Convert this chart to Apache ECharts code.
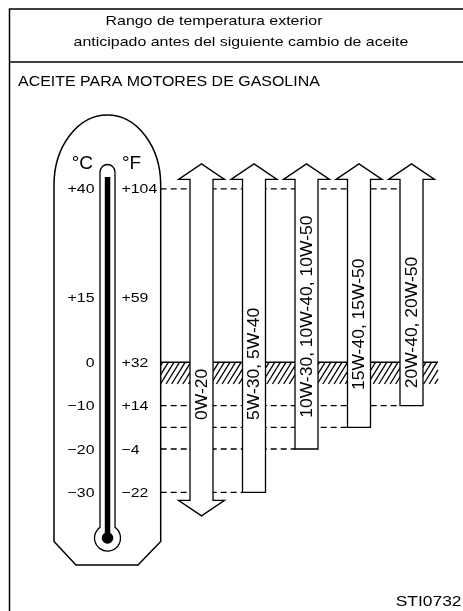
<!DOCTYPE html>
<html>
<head>
<meta charset="utf-8">
<script src="https://cdn.jsdelivr.net/npm/echarts@6/dist/echarts.min.js"></script>
<style>
  html, body { margin: 0; padding: 0; background: #fff; }
  #chart { width: 463px; height: 611px; }
</style>
</head>
<body>
<div id="chart"></div>
<script>
// Oil grades and the outdoor temperature range (°C) each one covers
const CATEGORIES = ['0W-20', '5W-30, 5W-40', '10W-30, 10W-40, 10W-50', '15W-40, 15W-50', '20W-40, 20W-50'];
const LOW_C = [-30, -30, -20, -15, -10];
const HIGH_C = [40, 40, 40, 40, 40];
const OPEN_LOW = [true, false, false, false, false];   // range continues below the low end
const OPEN_HIGH = [true, true, true, true, true];      // range continues above the high end

// Thermometer scale
const C_TICKS = [40, 15, 0, -10, -20, -30];
const C_LABELS = ['+40', '+15', '0', '\u221210', '\u221220', '\u221230'];
const F_LABELS = ['+104', '+59', '+32', '+14', '\u22124', '\u221222'];

// Hatched band (°C)
const HATCH_BAND = [0, -5];

// ---- layout / style constants ----
const FONT = '"Liberation Sans", Arial, Helvetica, sans-serif';
const INK = '#000';
const THERMO_EDGE = 160.7;   // right side of thermometer body
const HATCH_END = 438;
const SHAFT = 11.5, HEAD = 23, HEAD_GAP = 9.5, HEAD_LEN = 15.5;
const LABEL_FROM = [-13.3, -13.3, -12.8, -6.4, -6];  // where each rotated label starts (°C)

const chart = echarts.init(document.getElementById('chart'), null, { renderer: 'canvas' });

function txt(x, y, text, size, sx, align, valign) {
  return {
    type: 'text', x: x, y: y, scaleX: sx,
    style: { text: text, fill: INK, fontSize: size, fontFamily: FONT, textAlign: align, textVerticalAlign: valign }
  };
}

const graphics = [
  // frame and header separator
  { type: 'rect', z: 0, shape: { x: 9.5, y: 9, width: 460, height: 620 }, style: { fill: 'none', stroke: INK, lineWidth: 1.5 } },
  { type: 'line', z: 0, shape: { x1: 9.5, y1: 62, x2: 463, y2: 62 }, style: { stroke: INK, lineWidth: 1.5 } },
  txt(214, 21.5, 'Rango de temperatura exterior', 13.5, 1.18, 'center', 'middle'),
  txt(241, 42.5, 'anticipado antes del siguiente cambio de aceite', 13.5, 1.18, 'center', 'middle'),
  txt(18, 82.5, 'ACEITE PARA MOTORES DE GASOLINA', 14, 1.14, 'left', 'middle'),
  txt(461.5, 601.5, 'STI0732', 14.5, 1.2, 'right', 'middle')
];

// one reference line per limit value, running from the thermometer to the
// rightmost arrow that ends at that value
const dashEnds = {};
CATEGORIES.forEach((c, i) => {
  [LOW_C[i], HIGH_C[i]].forEach(v => { dashEnds[v] = Math.max(dashEnds[v] ?? -1, i); });
});
const dashData = Object.keys(dashEnds).map(v => [dashEnds[v], Number(v)]);

const option = {
  animation: false,
  backgroundColor: '#fff',
  grid: { left: 201.5, right: 51.5, top: 145.55, bottom: 75.3 },
  xAxis: { type: 'value', min: 0, max: 4, show: false },
  yAxis: { type: 'value', min: -40, max: 50, show: false },
  graphic: { elements: graphics },
  series: [
    {
      // thermometer body, tube and bulb
      name: 'thermometer', type: 'custom', z: 1, silent: true,
      data: [[0, 0]],
      renderItem: function () {
        return {
          type: 'group',
          children: [
            { type: 'path', shape: { pathData: 'M54,541.5 L54,185 A53.35,70 0 0 1 160.7,185 L160.7,541.5 L138,565 L76,565 Z' },
              style: { fill: '#fff', stroke: INK, lineWidth: 1.5 } },
            { type: 'path', shape: { pathData: 'M100,527.4 L100,172 A7.5,7.5 0 0 1 115,172 L115,527.4 A13,13 0 1 1 100,527.4 Z' },
              style: { fill: '#fff', stroke: INK, lineWidth: 1.3 } },
            { type: 'rect', shape: { x: 104.8, y: 177, width: 5.5, height: 361 }, style: { fill: INK } },
            { type: 'circle', shape: { cx: 107.5, cy: 538, r: 5.8 }, style: { fill: INK } },
            txt(93, 164, '°C', 19, 1, 'right', 'middle'),
            txt(122, 164, '°F', 19, 1, 'left', 'middle')
          ]
        };
      }
    },
    {
      name: 'band', type: 'custom', z: 1, silent: true,
      data: [[0, HATCH_BAND[0], HATCH_BAND[1]]],
      renderItem: function (params, api) {
        const yTop = api.coord([0, api.value(1)])[1];
        const yBot = api.coord([0, api.value(2)])[1];
        const h = yBot - yTop, k = 0.62, step = 5.6;
        const kids = [{ type: 'line', shape: { x1: THERMO_EDGE, y1: yTop, x2: HATCH_END, y2: yTop }, style: { stroke: INK, lineWidth: 1.6 } }];
        for (let xb = THERMO_EDGE - h * k + 2; xb < HATCH_END; xb += step) {
          let x1 = xb, y1 = yBot, x2 = xb + h * k, y2 = yTop;
          if (x1 < THERMO_EDGE) { y1 = yBot - (THERMO_EDGE - xb) / k; x1 = THERMO_EDGE; }
          if (x2 > HATCH_END) { y2 = yBot - (HATCH_END - xb) / k; x2 = HATCH_END; }
          kids.push({ type: 'line', shape: { x1: x1, y1: y1, x2: x2, y2: y2 }, style: { stroke: INK, lineWidth: 1.3 } });
        }
        return { type: 'group', children: kids };
      }
    },
    {
      name: 'limits', type: 'custom', z: 2, silent: true,
      data: dashData,
      renderItem: function (params, api) {
        const p = api.coord([api.value(0), api.value(1)]);
        return {
          type: 'line',
          shape: { x1: THERMO_EDGE, y1: p[1], x2: p[0] - SHAFT, y2: p[1] },
          style: { stroke: INK, lineWidth: 1.3, lineDash: [6, 4] }
        };
      }
    },
    {
      name: 'grades', type: 'custom', z: 3, silent: true,
      data: CATEGORIES.map((c, i) => ({ name: c, value: [i, LOW_C[i], HIGH_C[i], OPEN_LOW[i] ? 1 : 0, OPEN_HIGH[i] ? 1 : 0] })),
      renderItem: function (params, api) {
        const i = params.dataIndex;
        const lo = api.coord([api.value(0), api.value(1)]);
        const hi = api.coord([api.value(0), api.value(2)]);
        const xc = lo[0];
        let pts = [];
        if (api.value(4)) {
          const yb = hi[1] - HEAD_GAP;
          pts.push([xc - SHAFT, yb], [xc - HEAD, yb], [xc, yb - HEAD_LEN], [xc + HEAD, yb], [xc + SHAFT, yb]);
        } else {
          pts.push([xc - SHAFT, hi[1]], [xc + SHAFT, hi[1]]);
        }
        if (api.value(3)) {
          const yb = lo[1] + HEAD_GAP - 1.5;
          pts.push([xc + SHAFT, yb], [xc + HEAD, yb], [xc, yb + HEAD_LEN], [xc - HEAD, yb], [xc - SHAFT, yb]);
        } else {
          pts.push([xc + SHAFT, lo[1]], [xc - SHAFT, lo[1]]);
        }
        const ly = api.coord([api.value(0), LABEL_FROM[i]])[1];
        return {
          type: 'group',
          children: [
            { type: 'polygon', shape: { points: pts }, style: { fill: '#fff', stroke: INK, lineWidth: 1.3 } },
            {
              type: 'text', x: xc + 0.5, y: ly, rotation: Math.PI / 2, scaleX: 1.06,
              style: { text: CATEGORIES[i], fill: INK, fontSize: 16.5, fontFamily: FONT, textAlign: 'left', textVerticalAlign: 'middle' }
            }
          ]
        };
      }
    },
    {
      name: 'scale', type: 'custom', z: 4, silent: true,
      data: C_TICKS.map(v => [0, v]),
      renderItem: function (params, api) {
        const y = api.coord([0, api.value(1)])[1];
        const i = params.dataIndex;
        return {
          type: 'group',
          children: [
            txt(94.5, y + 1, C_LABELS[i], 13, 1.22, 'right', 'middle'),
            txt(121.5, y + 1, F_LABELS[i], 13, 1.22, 'left', 'middle')
          ]
        };
      }
    }
  ]
};

chart.setOption(option);
</script>
</body>
</html>
